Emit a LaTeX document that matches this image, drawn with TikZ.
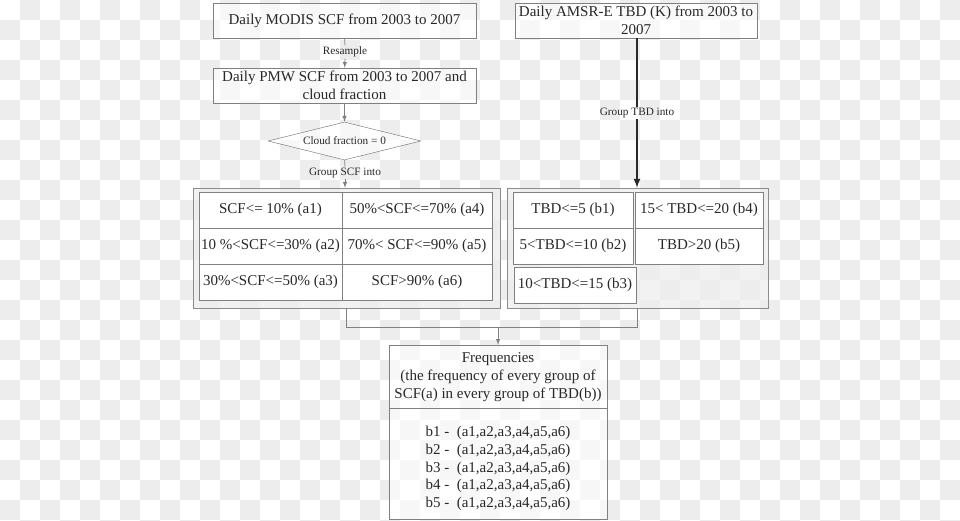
\documentclass[tikz,border=0pt]{standalone}
\usepackage{fontspec}
\setmainfont{Liberation Serif}
\usetikzlibrary{shapes.geometric}
\definecolor{lineg}{RGB}{128,128,128}
\definecolor{txt}{RGB}{40,40,40}
\definecolor{bgg}{RGB}{237,237,237}
\tikzset{
  riquadro/.style={draw=lineg,fill=white,fill opacity=0.6,text opacity=1,text=txt,align=center,inner sep=1pt,font=\fontsize{12}{14.2}\selectfont},
  cella/.style={draw=lineg,fill=white,text=txt,minimum height=28.8pt,inner sep=0pt,font=\fontsize{12}{14.2}\selectfont},
  gruppo/.style={draw=lineg!90,fill=gray!14,fill opacity=0.7,minimum width=245.6pt,minimum height=96pt},
  etich/.style={text=txt,inner sep=1pt,font=\fontsize{9}{11}\selectfont},
  conn/.style={draw=lineg,line width=0.6pt}
}
\begin{document}
\begin{tikzpicture}[x=0.8pt,y=-0.8pt]
        \useasboundingbox (0,0) rectangle (960,521);
        %sfondo a scacchi
        \begin{scope}
          \clip (0,0) rectangle (960,521);
          \fill[white] (0,0) rectangle (960,521);
          \foreach \j in {0,...,26}{
            \foreach \i in {0,...,47}{
              \pgfmathtruncatemacro\k{mod(\i+\j,2)}
              \ifnum\k=1 \fill[bgg] (\i*20,\j*20) rectangle ++(20,20);\fi
            }
          }
        \end{scope}
        %riquadri in alto
        \node[riquadro,minimum width=210.4pt,minimum height=28pt] (modis) at (344.5,20.5) {Daily MODIS SCF from 2003 to 2007};
        \node[riquadro,minimum width=210.4pt,minimum height=28pt] (pmw) at (344.5,85.5) {Daily PMW SCF from 2003 to 2007 and\\cloud fraction};
        \node[riquadro,minimum width=193.6pt,minimum height=28pt] (amsr) at (636,20.5) {Daily AMSR-E TBD (K) from 2003 to\\2007};
        \node[draw=lineg,fill=white,fill opacity=0.6,text opacity=1,text=txt,diamond,aspect=4,inner sep=0pt,minimum width=122.4pt,minimum height=30.4pt,font=\fontsize{9}{11}\selectfont] (nube) at (344.5,141) {Cloud fraction = 0};
        %etichette
        \node[etich] (resamp) at (345,52) {Resample};
        \node[etich] (grscf) at (345,173) {Group SCF into};
        \node[etich] (grtbd) at (637,113) {Group TBD into};
        %gruppi
        \node[gruppo] (scfgrp) at (346.5,248) {};
        \node[gruppo,minimum width=208.8pt] (tbdgrp) at (637.5,248) {};
        %classi SCF
        \node[cella,minimum width=114.4pt] (a1) at (270.5,210) {SCF<= 10\% (a1)};
        \node[cella,minimum width=114.4pt] (a2) at (270.5,246) {10 \%<SCF<=30\% (a2)};
        \node[cella,minimum width=114.4pt] (a3) at (270.5,282) {30\%<SCF<=50\% (a3)};
        \node[cella,minimum width=120pt] (a4) at (417,210) {50\%<SCF<=70\% (a4)};
        \node[cella,minimum width=120pt] (a5) at (417,246) {70\%< SCF<=90\% (a5)};
        \node[cella,minimum width=120pt] (a6) at (417,282) {SCF>90\% (a6)};
        %classi TBD
        \node[cella,minimum width=96pt] (b1) at (573,210) {TBD<=5 (b1)};
        \node[cella,minimum width=96pt] (b2) at (573,246) {5<TBD<=10 (b2)};
        \node[cella,minimum width=97.6pt] (b3) at (575,285) {10<TBD<=15 (b3)};
        \node[cella,minimum width=102.4pt] (b4) at (699,210) {15< TBD<=20 (b4)};
        \node[cella,minimum width=102.4pt] (b5) at (699,246) {TBD>20 (b5)};
        %frequenze
        \node[draw=lineg,fill=white,fill opacity=0.6,minimum width=174.4pt,minimum height=139.2pt] (freq) at (498,432) {};
        \node[text=txt,align=center,inner sep=0pt,font=\fontsize{12}{14.4}\selectfont] (freqtit) at (498,377) {Frequencies\\ (the frequency of every group of\\SCF(a) in every group of TBD(b))};
        \node[text=txt,align=left,inner sep=0pt,font=\fontsize{12}{14.2}\selectfont] (freqlist) at (498,468.5) {b1 -\ \ (a1,a2,a3,a4,a5,a6)\\b2 -\ \ (a1,a2,a3,a4,a5,a6)\\b3 -\ \ (a1,a2,a3,a4,a5,a6)\\b4 -\ \ (a1,a2,a3,a4,a5,a6)\\b5 -\ \ (a1,a2,a3,a4,a5,a6)};
        \coordinate (dv) at (0,408);
        \draw[conn] (freq.west |- dv) -- (freq.east |- dv);
        %frecce
        \draw[conn] (modis) -- (resamp);
        \draw[conn,-latex] (resamp) -- (pmw);
        \draw[conn,-latex] (pmw) -- (nube);
        \draw[conn] (nube) -- (grscf);
        \draw[conn,-latex] (grscf) -- (scfgrp.north -| grscf);
        \draw[txt,line width=1.4pt] (amsr.south -| grtbd) -- (grtbd);
        \draw[txt,line width=1.4pt,-latex] (grtbd) -- (tbdgrp.north -| grtbd);
        \coordinate (jn) at (498,327);
        \draw[conn] (scfgrp.south) -- (scfgrp.south |- jn) -| (tbdgrp.south);
        \draw[conn,-latex] (jn) -- (freq.north);
\end{tikzpicture}
\end{document}
